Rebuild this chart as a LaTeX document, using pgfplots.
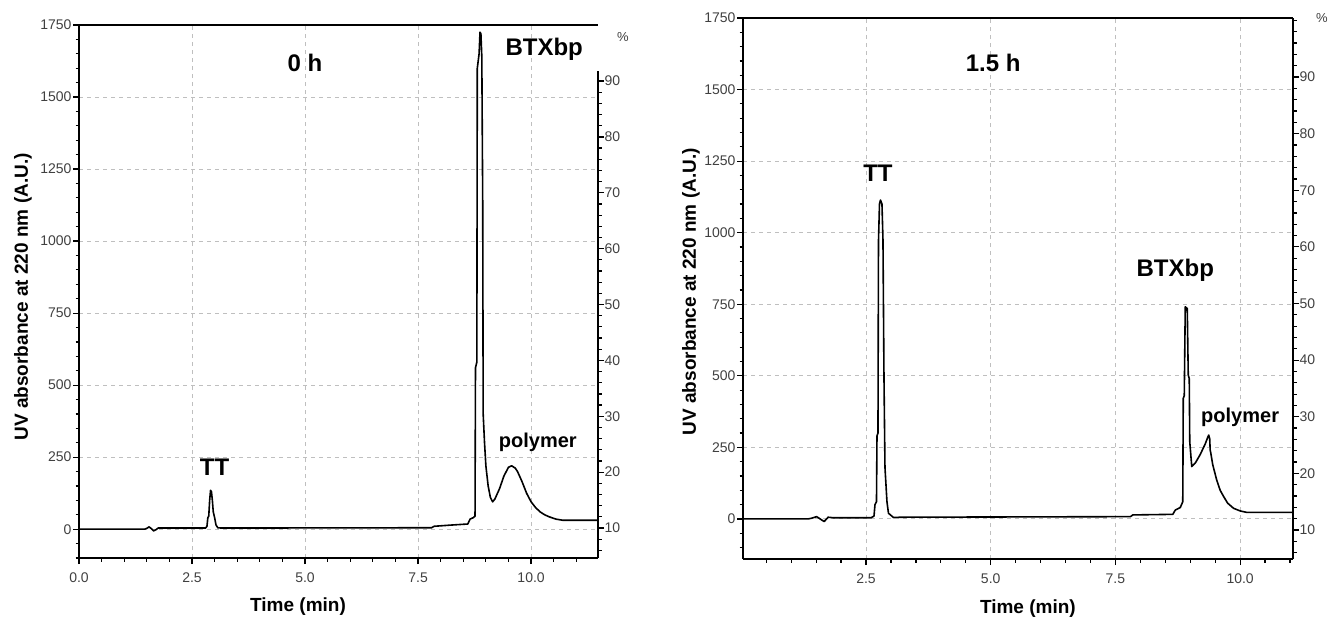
\documentclass[border=0pt]{standalone}
\usepackage{fontspec}
\setmainfont{Liberation Sans}
\usepackage{pgfplots}
\pgfplotsset{compat=1.18}

% 1 px of the reference = 1 pt here
\pgfplotsset{
  chrom/.style={
    scale only axis,
    axis x line*=box, axis y line*=left,
    xtick pos=bottom, ytick pos=left,
    tick align=outside,
    major tick length=6pt, minor tick length=3.5pt,
    every tick/.style={black, line width=1.2pt},
    axis line style={line width=1.8pt},
    grid=major,
    major grid style={black!25, line width=0.9pt, dash pattern=on 4pt off 4pt},
    tick label style={font=\fontsize{14}{16}\selectfont, text=black!75},
    /pgf/number format/assume math mode=true,
    label style={font=\fontsize{19}{22}\selectfont\bfseries},
    ytick={0,250,...,1750},
    yticklabels={0,250,500,750,1000,1250,1500,1750},
    yticklabel style={xshift=2pt},
    minor ytick={-100,-50,...,1750},
    minor xtick={0,0.5,...,11.5},
    xticklabel style={yshift=-5pt},
    ylabel={UV absorbance at 220 nm (A.U.)},
    xlabel={Time (min)},
  },
  pct/.style={
    scale only axis,
    axis y line*=right, axis x line=none,
    tick align=outside,
    major tick length=6pt, minor tick length=3.5pt,
    every tick/.style={black, line width=1.2pt},
    axis line style={line width=1.8pt},
    tick label style={font=\fontsize{14}{16}\selectfont, text=black!75},
    /pgf/number format/assume math mode=true,
    ytick={10,20,...,90},
    yticklabel style={xshift=-3pt},
  },
}
\tikzset{
  trace/.style={black, line width=1.6pt, line join=round},
  tag/.style={font=\fontsize{24}{28}\selectfont\bfseries},
  ptag/.style={font=\fontsize{20}{24}\selectfont\bfseries},
}

\begin{document}
\begin{tikzpicture}
\useasboundingbox (0,0) rectangle (1336pt,-623pt);

% ---------- 0 h ----------
\begin{axis}[
  chrom,
  at={(79pt,-558pt)}, anchor=south west,
  width=519pt, height=533pt,
  xmin=0, xmax=11.48, ymin=-100, ymax=1750,
  xtick={0,2.5,5,7.5,10},
  xticklabels={0.0,2.5,5.0,7.5,10.0},
  xlabel style={at={(axis description cs:0.422,-0.092)}, anchor=center},
  ylabel style={at={(axis description cs:-0.108,0.49)}, anchor=center},
]
\addplot[trace] coordinates {
  (0,0) (1.45,0) (1.5,3) (1.55,8) (1.6,2) (1.65,-6) (1.7,-2) (1.75,4) (1.85,4)
  (2.8,4) (2.83,10) (2.85,40) (2.87,45) (2.89,100) (2.91,135) (2.93,130)
  (2.95,100) (2.97,60) (3.0,40) (3.03,15) (3.07,5) (3.15,4)
  (7.8,5) (7.85,10) (8.2,14) (8.6,18) (8.65,35) (8.72,40) (8.76,45)
  (8.77,560) (8.80,580) (8.81,1600) (8.85,1650) (8.87,1725) (8.89,1720)
  (8.91,1640) (8.93,1130) (8.94,400) (8.97,300) (9.0,220) (9.05,150)
  (9.1,110) (9.15,95) (9.2,105) (9.3,140) (9.4,185) (9.5,215) (9.57,220)
  (9.65,212) (9.7,200) (9.8,165) (9.9,125) (10.0,95) (10.1,75) (10.2,60)
  (10.3,50) (10.4,43) (10.55,35) (10.7,31) (11.48,31)
};
\node[tag] at (axis cs:5.0,1618) {0 h};
\node[tag] at (axis cs:10.29,1667) {BTXbp};
\node[tag] at (axis cs:3.0,215) {TT};
\node[ptag] at (axis cs:10.15,302) {polymer};
\end{axis}

\begin{axis}[
  pct,
  at={(79pt,-558pt)}, anchor=south west,
  width=519pt, height=487pt,
  xmin=0, xmax=11.48, ymin=4.63, ymax=91.8,
  minor ytick={6,8,...,90},
]
\end{axis}
\node[font=\fontsize{13}{15}\selectfont, text=black!75] at (623pt,-37pt) {\%};

% ---------- 1.5 h ----------
\begin{axis}[
  chrom,
  at={(743pt,-559pt)}, anchor=south west,
  width=550pt, height=541pt,
  xmin=0.034, xmax=11.06, ymin=-140, ymax=1750,
  xtick={2.5,5,7.5,10},
  xticklabels={2.5,5.0,7.5,10.0},
  xlabel style={at={(axis description cs:0.518,-0.092)}, anchor=center},
  ylabel style={at={(axis description cs:-0.0945,0.494)}, anchor=center},
]
\addplot[trace] coordinates {
  (0.034,0) (1.34,0) (1.42,3) (1.51,8) (1.58,0) (1.66,-9) (1.7,-2) (1.74,6)
  (1.85,4) (2.6,4) (2.66,10) (2.68,50) (2.71,60) (2.72,290) (2.74,300)
  (2.75,970) (2.77,1100) (2.79,1114) (2.82,1100) (2.84,975) (2.86,500)
  (2.88,180) (2.92,60) (2.95,20) (3.05,5) (3.2,6)
  (7.8,8) (7.85,14) (8.65,16) (8.70,31) (8.8,40) (8.85,60) (8.86,422)
  (8.88,430) (8.90,741) (8.94,735) (8.96,503) (8.98,490) (8.99,270)
  (9.03,183) (9.1,195) (9.2,225) (9.3,262) (9.35,285) (9.37,293) (9.39,280)
  (9.40,240) (9.41,232) (9.45,190) (9.53,136) (9.6,100) (9.67,78) (9.75,55)
  (9.87,37) (10.0,28) (10.13,23) (11.06,23)
};
\node[tag] at (axis cs:5.05,1593) {1.5 h};
\node[tag] at (axis cs:2.74,1208) {TT};
\node[tag] at (axis cs:8.7,870) {BTXbp};
\node[ptag] at (axis cs:10.0,356) {polymer};
\end{axis}

\begin{axis}[
  pct,
  at={(743pt,-559pt)}, anchor=south west,
  width=550pt, height=541pt,
  xmin=0.034, xmax=11.06, ymin=4.88, ymax=100.42,
  minor ytick={6,8,...,100},
]
\end{axis}
\node[font=\fontsize{13}{15}\selectfont, text=black!75] at (1322pt,-18pt) {\%};
\end{tikzpicture}
\end{document}
